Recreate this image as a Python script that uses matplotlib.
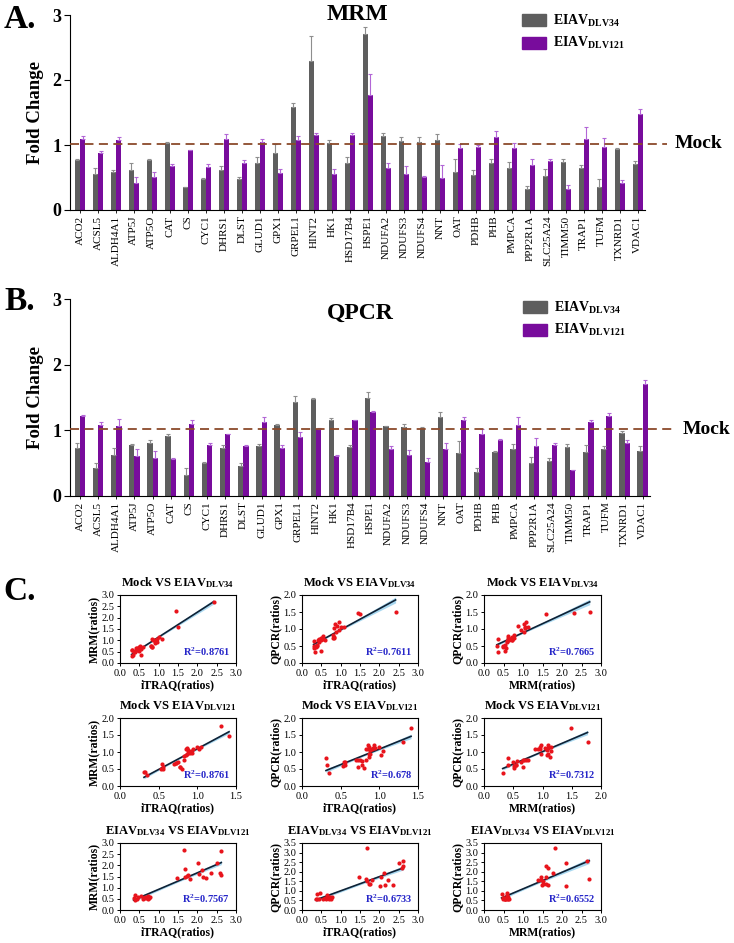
import numpy as np
import matplotlib
matplotlib.use("Agg")
import matplotlib.pyplot as plt
from matplotlib.patches import Patch
from matplotlib.transforms import blended_transform_factory

plt.rcParams['font.family'] = ['Liberation Serif', 'DejaVu Serif']
plt.rcParams['mathtext.fontset'] = 'custom'
plt.rcParams['mathtext.rm'] = 'Liberation Serif'
plt.rcParams['mathtext.bf'] = 'Liberation Serif:bold'
plt.rcParams['mathtext.it'] = 'Liberation Serif:italic'
plt.rcParams['axes.linewidth'] = 0.8

genes = ['ACO2', 'ACSL5', 'ALDH4A1', 'ATP5J', 'ATP5O', 'CAT', 'CS', 'CYC1',
         'DHRS1', 'DLST', 'GLUD1', 'GPX1', 'GRPEL1', 'HINT2', 'HK1', 'HSD17B4',
         'HSPE1', 'NDUFA2', 'NDUFS3', 'NDUFS4', 'NNT', 'OAT', 'PDHB', 'PHB',
         'PMPCA', 'PPP2R1A', 'SLC25A24', 'TIMM50', 'TRAP1', 'TUFM', 'TXNRD1', 'VDAC1']

# MRM fold changes (bars) and upper error
mrm34 = [0.77, 0.56, 0.59, 0.62, 0.77, 1.03, 0.35, 0.48, 0.62, 0.48, 0.72, 0.87,
         1.58, 2.30, 1.03, 0.72, 2.71, 1.14, 1.06, 1.04, 1.08, 0.58, 0.54, 0.72,
         0.64, 0.33, 0.53, 0.74, 0.65, 0.36, 0.94, 0.71]
mrm34_err = [0.02, 0.08, 0.03, 0.10, 0.02, 0.01, 0.00, 0.01, 0.05, 0.03, 0.10, 0.15,
             0.06, 0.37, 0.05, 0.10, 0.11, 0.05, 0.06, 0.09, 0.09, 0.20, 0.08, 0.07,
             0.10, 0.04, 0.10, 0.05, 0.05, 0.12, 0.01, 0.05]
mrm121 = [1.10, 0.88, 1.07, 0.41, 0.51, 0.67, 0.92, 0.66, 1.09, 0.72, 1.04, 0.57,
          1.08, 1.15, 0.55, 1.15, 1.77, 0.64, 0.55, 0.51, 0.50, 0.95, 0.97, 1.13,
          0.96, 0.69, 0.76, 0.32, 1.09, 0.97, 0.41, 1.48]
mrm121_err = [0.04, 0.03, 0.05, 0.10, 0.07, 0.04, 0.01, 0.05, 0.08, 0.05, 0.05, 0.06,
              0.06, 0.03, 0.08, 0.03, 0.32, 0.08, 0.12, 0.01, 0.19, 0.07, 0.03, 0.08,
              0.07, 0.09, 0.03, 0.06, 0.18, 0.14, 0.05, 0.08]

# QPCR fold changes
qpcr34 = [0.73, 0.43, 0.63, 0.78, 0.81, 0.91, 0.32, 0.50, 0.73, 0.46, 0.76, 1.08,
          1.43, 1.48, 1.16, 0.74, 1.49, 1.06, 1.05, 1.04, 1.21, 0.65, 0.36, 0.67,
          0.72, 0.50, 0.54, 0.75, 0.67, 0.71, 0.96, 0.69]
qpcr34_err = [0.07, 0.07, 0.10, 0.01, 0.05, 0.03, 0.10, 0.02, 0.04, 0.04, 0.03, 0.01,
              0.09, 0.02, 0.03, 0.03, 0.09, 0.01, 0.04, 0.01, 0.07, 0.19, 0.06, 0.01,
              0.07, 0.10, 0.04, 0.04, 0.11, 0.05, 0.03, 0.07]
qpcr121 = [1.22, 1.08, 1.07, 0.61, 0.58, 0.56, 1.09, 0.77, 0.94, 0.76, 1.13, 0.73,
           0.90, 1.02, 0.61, 1.15, 1.28, 0.71, 0.63, 0.52, 0.71, 1.16, 0.94, 0.85,
           1.08, 0.76, 0.77, 0.39, 1.13, 1.22, 0.81, 1.71]
qpcr121_err = [0.02, 0.04, 0.11, 0.10, 0.10, 0.02, 0.06, 0.03, 0.01, 0.01, 0.08, 0.05,
               0.08, 0.01, 0.01, 0.01, 0.01, 0.05, 0.07, 0.06, 0.09, 0.04, 0.08, 0.02,
               0.12, 0.12, 0.03, 0.00, 0.03, 0.05, 0.04, 0.06]

# iTRAQ ratios per gene
itraq34 = [0.80, 0.32, 0.45, 0.55, 0.80, 0.88, 0.33, 0.40, 0.50, 0.35, 0.82, 0.90,
           1.50, 1.45, 0.85, 0.84, 2.42, 1.00, 1.08, 0.82, 0.95, 0.30, 0.50, 0.60,
           0.45, 0.30, 0.38, 0.52, 0.42, 0.55, 0.95, 0.48]
itraq121 = [0.85, 0.83, 0.88, 0.32, 0.53, 0.72, 0.85, 0.70, 0.86, 0.75, 0.92, 0.78,
            1.02, 1.05, 0.77, 1.00, 1.31, 0.54, 0.55, 0.80, 0.55, 0.87, 0.88, 0.86,
            0.90, 0.73, 0.83, 0.35, 0.95, 0.93, 0.31, 1.41]

# EIAV_DLV34 vs EIAV_DLV121 ratios
vs_itraq = [0.35, 0.38, 0.40, 0.45, 0.47, 0.55, 0.60, 0.63, 0.65, 0.68, 0.70, 0.72,
            0.72, 0.75, 0.78, 1.47, 1.65, 1.67, 1.67, 1.72, 1.75, 1.82, 2.03, 2.05,
            2.12, 2.15, 2.22, 2.35, 2.52, 2.58, 2.60, 2.62]
vs_mrm = [0.55, 0.45, 0.65, 0.48, 0.60, 0.62, 0.50, 0.55, 0.58, 0.52, 0.60, 0.48,
          0.62, 0.55, 0.58, 1.45, 2.70, 1.82, 1.50, 1.52, 1.58, 1.38, 2.10, 1.60,
          1.78, 1.48, 1.45, 1.65, 2.10, 1.65, 1.58, 2.65]
vs_qpcr = [0.55, 0.82, 0.58, 0.55, 0.90, 0.60, 0.65, 0.60, 0.80, 0.62, 0.55, 0.65,
           0.70, 0.60, 0.68, 1.72, 1.60, 3.22, 1.50, 1.38, 1.35, 1.55, 1.25, 1.70,
           1.95, 1.30, 1.55, 1.33, 2.48, 2.20, 2.30, 2.55]

r2_labels = [['0.8761', '0.7611', '0.7665'],
             ['0.8761', '0.678', '0.7312'],
             ['0.7567', '0.6733', '0.6552']]

GRAY = '#5e5e5e'
PURPLE = '#780c9c'
W, H = 734, 943
fig = plt.figure(figsize=(W / 100, H / 100), dpi=100)


def px_axes(left, top, right, bottom):
    return fig.add_axes([left / W, 1 - bottom / H, (right - left) / W, (bottom - top) / H])


def bar_panel(ax, v34, e34, v121, e121, line_end, mock_x):
    x = np.arange(len(genes))
    w = 0.29
    z = np.zeros(len(genes))
    ax.bar(x - w / 2, v34, w, color=GRAY, yerr=[z, e34],
           error_kw=dict(ecolor='#8e8e8e', elinewidth=0.8, capsize=1.2, capthick=0.8))
    ax.bar(x + w / 2, v121, w, color=PURPLE, yerr=[z, e121],
           error_kw=dict(ecolor='#b266d6', elinewidth=0.8, capsize=1.2, capthick=0.8))
    ax.set_xlim(-0.55, len(genes) - 0.6)
    ax.set_ylim(0, 3)
    ax.set_yticks([0, 1, 2, 3])
    ax.set_xticks(x)
    ax.set_xticklabels(genes, rotation=90, fontsize=8)
    for t in ax.get_yticklabels():
        t.set_fontweight('bold')
        t.set_fontsize(13)
    ax.tick_params(axis='y', length=4, width=0.8, pad=2)
    ax.tick_params(axis='x', length=2, width=0.6, pad=2)
    ax.set_ylabel('Fold Change', fontsize=13.5, fontweight='bold', labelpad=6)
    for s in ['top', 'right']:
        ax.spines[s].set_visible(False)
    tr = blended_transform_factory(ax.transAxes, ax.transData)
    ax.plot([0, line_end], [1.02, 1.02], transform=tr, color='#8b4a2b', lw=1.3,
            ls=(0, (5, 3)), clip_on=False, zorder=5)
    ax.text(mock_x, 1.02, 'Mock', transform=tr, fontsize=14, fontweight='bold',
            va='center', ha='left')
    handles = [Patch(color=GRAY), Patch(color=PURPLE)]
    return handles


# Panel A: MRM
axA = px_axes(70, 15, 645, 210)
h = bar_panel(axA, mrm34, mrm34_err, mrm121, mrm121_err, 1.038, 1.052)
leg_labels = [r'EIAV$_{\mathbf{DLV34}}$', r'EIAV$_{\mathbf{DLV121}}$']
axA.legend(h, leg_labels, loc='upper left', bbox_to_anchor=(522 / W, 1 - 13 / H),
           bbox_transform=fig.transFigure, frameon=False, handlelength=1.7,
           handleheight=0.95, borderpad=0, borderaxespad=0, labelspacing=0.45,
           handletextpad=0.5, prop={'weight': 'bold', 'size': 10})
fig.text(357 / W, 1 - 14 / H, 'MRM', fontsize=17, fontweight='bold', ha='center', va='center')
fig.text(4 / W, 1 - 20 / H, 'A.', fontsize=24, fontweight='bold', ha='left', va='center')

# Panel B: QPCR
axB = px_axes(70, 299, 650, 496)
h = bar_panel(axB, qpcr34, qpcr34_err, qpcr121, qpcr121_err, 1.043, 1.057)
axB.legend(h, leg_labels, loc='upper left', bbox_to_anchor=(523 / W, 1 - 300 / H),
           bbox_transform=fig.transFigure, frameon=False, handlelength=1.7,
           handleheight=0.95, borderpad=0, borderaxespad=0, labelspacing=0.45,
           handletextpad=0.5, prop={'weight': 'bold', 'size': 10})
fig.text(360 / W, 1 - 313 / H, 'QPCR', fontsize=17, fontweight='bold', ha='center', va='center')
fig.text(4 / W, 1 - 302 / H, 'B.', fontsize=24, fontweight='bold', ha='left', va='center')

# Panel C: correlation scatters
fig.text(3 / W, 1 - 592 / H, 'C.', fontsize=24, fontweight='bold', ha='left', va='center')

cols = [(120, 236), (302, 418), (484, 601)]
rows = [(595, 663), (718, 786), (843, 910)]
titles = [r'Mock VS EIAV$_{\mathbf{DLV34}}$',
          r'Mock VS EIAV$_{\mathbf{DLV121}}$',
          r'EIAV$_{\mathbf{DLV34}}$ VS EIAV$_{\mathbf{DLV121}}$']
scatter_sets = [
    [(itraq34, mrm34, 'iTRAQ(ratios)', 'MRM(ratios)', 3.0, 3.0),
     (itraq34, qpcr34, 'iTRAQ(ratios)', 'QPCR(ratios)', 3.0, 2.0),
     (mrm34, qpcr34, 'MRM(ratios)', 'QPCR(ratios)', 3.0, 2.0)],
    [(itraq121, mrm121, 'iTRAQ(ratios)', 'MRM(ratios)', 1.5, 2.0),
     (itraq121, qpcr121, 'iTRAQ(ratios)', 'QPCR(ratios)', 1.5, 2.0),
     (mrm121, qpcr121, 'MRM(ratios)', 'QPCR(ratios)', 2.0, 2.0)],
    [(vs_itraq, vs_mrm, 'iTRAQ(ratios)', 'MRM(ratios)', 3.0, 3.0),
     (vs_itraq, vs_qpcr, 'iTRAQ(ratios)', 'QPCR(ratios)', 3.0, 3.5),
     (vs_mrm, vs_qpcr, 'MRM(ratios)', 'QPCR(ratios)', 3.0, 3.5)],
]

for i, (top, bottom) in enumerate(rows):
    for j, (left, right) in enumerate(cols):
        xs, ys, xl, yl, xmax, ymax = scatter_sets[i][j]
        xs = np.asarray(xs)
        ys = np.asarray(ys)
        ax = px_axes(left, top, right, bottom)
        # least-squares fit with a narrow confidence band
        b, a = np.polyfit(xs, ys, 1)
        xf = np.linspace(xs.min(), xs.max(), 100)
        yf = a + b * xf
        n = len(xs)
        s = np.sqrt(np.sum((ys - (a + b * xs)) ** 2) / (n - 2))
        se = s * np.sqrt(1 / n + (xf - xs.mean()) ** 2 / np.sum((xs - xs.mean()) ** 2))
        ax.fill_between(xf, yf - 0.8 * se, yf + 0.8 * se, color='#a9d8f0', lw=0, zorder=1)
        ax.plot(xf, yf, color='#0e2236', lw=1.2, zorder=2)
        ax.scatter(xs, ys, s=9, color='#e8141c', lw=0, zorder=3)
        ax.set_xlim(0, xmax)
        ax.set_ylim(0, ymax)
        ax.set_xticks(np.arange(0, xmax + 0.01, 0.5))
        ax.set_yticks(np.arange(0, ymax + 0.01, 0.5))
        ax.xaxis.set_major_formatter(plt.FormatStrFormatter('%.1f'))
        ax.yaxis.set_major_formatter(plt.FormatStrFormatter('%.1f'))
        ax.tick_params(labelsize=7.5, length=2.5, width=0.7, pad=1.5)
        ax.set_xlabel(xl, fontsize=8.5, fontweight='bold', labelpad=1)
        ax.set_ylabel(yl, fontsize=8.5, fontweight='bold', labelpad=1)
        ax.set_title(titles[i], fontsize=9, fontweight='bold', pad=6)
        ax.text(0.95, 0.16, r'R$^{\mathbf{2}}$=' + r2_labels[i][j], transform=ax.transAxes,
                ha='right', va='center', fontsize=7.5, fontweight='bold', color='#2626c9')

fig.savefig('out.png', dpi=100)
